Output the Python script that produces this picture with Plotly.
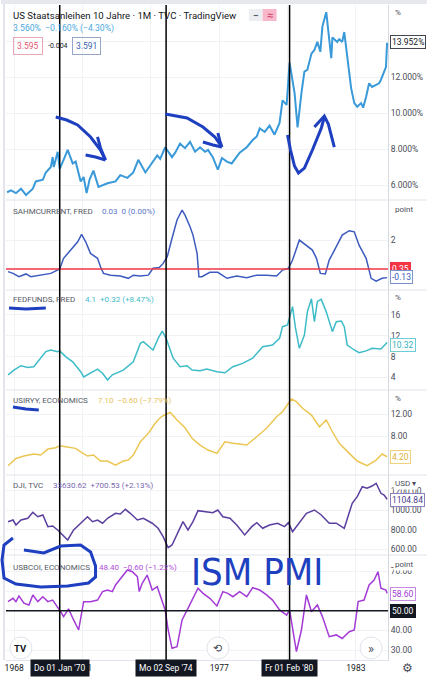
import plotly.graph_objects as go
from plotly.subplots import make_subplots

# --- data (decimal years) ---
ust10_x = [1967.69, 1967.86, 1968.08, 1968.30, 1968.52, 1968.82, 1968.95, 1969.26, 1969.39, 1969.61,
           1969.69, 1969.74, 1969.91, 1970.00, 1970.17, 1970.35, 1970.57, 1970.70, 1970.92, 1971.05,
           1971.18, 1971.31, 1971.48, 1971.70, 1972.10, 1972.45, 1972.66, 1972.97, 1973.23, 1973.45,
           1973.76, 1973.97, 1974.28, 1974.41, 1974.63, 1974.93, 1975.07, 1975.28, 1975.50, 1975.72,
           1975.94, 1976.16, 1976.38, 1976.51, 1976.72, 1976.94, 1977.12, 1977.34, 1977.55, 1977.90,
           1978.21, 1978.47, 1978.65, 1978.78, 1979.00, 1979.21, 1979.43, 1979.65, 1979.78, 1979.96,
           1980.09, 1980.31, 1980.44, 1980.61, 1980.74, 1980.87, 1981.05, 1981.18, 1981.31, 1981.44,
           1981.53, 1981.70, 1981.83, 1981.92, 1981.97, 1982.18, 1982.27, 1982.40, 1982.49, 1982.62,
           1982.79, 1982.93, 1983.06, 1983.23, 1983.32, 1983.45, 1983.58, 1983.71, 1984.02, 1984.10,
           1984.32, 1984.37]
ust10_v = [5.6, 5.7, 5.55, 5.8, 5.45, 5.8, 6.2, 6.3, 6.7, 7.0,
           7.55, 7.0, 7.85, 6.9, 7.4, 7.95, 7.2, 7.3, 6.2, 6.45,
           5.55, 6.3, 6.8, 5.9, 6.1, 6.2, 6.55, 6.4, 6.7, 7.4,
           6.7, 7.1, 7.65, 7.45, 8.1, 7.55, 7.8, 8.3, 8.05, 8.4,
           7.85, 8.1, 7.85, 7.95, 7.55, 6.85, 7.5, 7.3, 7.2, 7.8,
           8.1, 8.5, 8.7, 9.15, 8.95, 9.3, 8.8, 9.45, 10.7, 10.45,
           12.8, 11.1, 9.2, 11.1, 12.3, 12.4, 13.3, 13.5, 13.95, 13.4,
           14.8, 15.6, 14.2, 13.05, 14.2, 13.95, 14.1, 13.95, 14.5, 13.05,
           11.4, 10.55, 10.35, 10.55, 10.3, 10.9, 11.65, 11.45, 11.65, 11.85,
           12.55, 13.9]

sahm_x = [1967.73, 1967.95, 1968.21, 1968.52, 1968.73, 1969.17, 1969.61, 1969.83, 1970.00, 1970.17,
          1970.57, 1970.79, 1970.96, 1971.14, 1971.35, 1971.66, 1971.79, 1971.92, 1972.23, 1972.66,
          1973.01, 1973.23, 1973.54, 1973.89, 1974.10, 1974.37, 1974.54, 1974.72, 1974.93, 1975.15,
          1975.37, 1975.50, 1975.72, 1975.85, 1976.03, 1976.11, 1976.24, 1976.59, 1976.94, 1977.34,
          1977.77, 1978.21, 1978.65, 1979.08, 1979.52, 1979.78, 1980.04, 1980.22, 1980.52, 1980.83,
          1981.09, 1981.27, 1981.44, 1981.66, 1981.83, 1982.14, 1982.40, 1982.71, 1982.93, 1983.14,
          1983.45, 1983.67, 1983.89, 1984.15, 1984.37]
sahm_v = [0.2, 0.1, -0.09, 0.07, -0.09, 0.0, 0.1, 0.24, 0.35, 0.96,
          1.53, 1.9, 2.32, 1.9, 1.24, 0.96, 0.48, 0.1, 0.0, -0.05,
          -0.18, 0.0, -0.05, 0.0, 0.39, 0.43, 0.67, 1.05, 2.1, 3.14,
          3.7, 3.42, 2.76, 2.28, 1.24, -0.09, -0.09, 0.16, 0.16, -0.18,
          -0.05, -0.14, 0.0, 0.0, -0.05, 0.29, 0.39, 0.86, 2.0, 1.71,
          1.43, 0.96, 0.1, 0.07, 0.86, 1.62, 2.28, 2.53, 2.47, 1.71,
          0.96, -0.18, -0.34, -0.18, -0.14]

fed_x = [1967.73, 1967.99, 1968.30, 1968.60, 1968.86, 1969.17, 1969.39, 1969.61, 1969.91, 1970.00,
         1970.26, 1970.57, 1970.92, 1971.05, 1971.35, 1971.66, 1971.88, 1972.10, 1972.31, 1972.79,
         1973.23, 1973.54, 1973.67, 1973.89, 1974.10, 1974.32, 1974.50, 1974.67, 1974.98, 1975.28,
         1975.59, 1975.81, 1976.16, 1976.46, 1976.90, 1977.25, 1977.60, 1978.03, 1978.47, 1978.91,
         1979.34, 1979.65, 1979.78, 1980.00, 1980.17, 1980.22, 1980.35, 1980.52, 1980.74, 1980.87,
         1981.05, 1981.18, 1981.31, 1981.48, 1981.70, 1981.83, 1981.97, 1982.14, 1982.36, 1982.49,
         1982.62, 1982.93, 1983.14, 1983.45, 1983.71, 1984.10, 1984.37]
fed_v = [4.5, 5.4, 6.25, 5.9, 6.05, 7.7, 8.95, 9.27, 8.95, 9.1,
         8.0, 7.0, 5.1, 4.1, 4.9, 5.6, 4.8, 3.5, 4.5, 5.4,
         7.0, 10.55, 10.87, 10.1, 9.27, 11.5, 12.9, 11.5, 7.7, 6.05,
         6.25, 5.4, 5.3, 5.6, 5.1, 4.9, 6.05, 6.7, 7.7, 9.9,
         10.23, 11.5, 13.75, 14.1, 17.0, 17.6, 13.45, 9.6, 12.15, 16.6,
         19.1, 14.7, 18.6, 19.0, 16.6, 14.7, 12.8, 14.7, 14.85, 13.75,
         10.23, 9.27, 8.75, 9.1, 9.6, 9.45, 10.7]

cpi_x = [1967.73, 1968.08, 1968.43, 1968.86, 1969.17, 1969.48, 1969.83, 1970.00, 1970.26, 1970.70,
         1970.92, 1971.22, 1971.48, 1971.79, 1972.10, 1972.45, 1972.79, 1973.01, 1973.23, 1973.54,
         1973.89, 1974.19, 1974.41, 1974.54, 1974.85, 1975.15, 1975.50, 1975.81, 1976.16, 1976.51,
         1976.90, 1977.25, 1977.60, 1978.21, 1978.65, 1979.08, 1979.52, 1979.78, 1980.17, 1980.39,
         1980.66, 1981.05, 1981.40, 1981.70, 1981.97, 1982.27, 1982.71, 1983.06, 1983.49, 1983.89,
         1984.15, 1984.37]
cpi_v = [2.68, 4.0, 4.44, 4.8, 4.62, 5.7, 5.94, 6.3, 6.12, 5.83,
         5.2, 4.44, 4.62, 3.53, 3.53, 2.8, 3.53, 3.7, 4.62, 7.03,
         8.55, 10.37, 11.38, 11.75, 12.35, 10.97, 9.57, 7.65, 6.43, 5.52,
         4.92, 7.03, 6.74, 6.43, 7.94, 9.46, 11.56, 12.47, 14.78, 14.29,
         13.09, 11.87, 9.75, 10.97, 8.84, 6.74, 4.92, 3.53, 2.68, 3.7,
         4.8, 4.31]

dji_x = [1967.73, 1967.95, 1968.08, 1968.30, 1968.60, 1968.82, 1969.04, 1969.26, 1969.48, 1969.69,
         1969.91, 1970.04, 1970.35, 1970.61, 1970.92, 1971.22, 1971.44, 1971.66, 1971.88, 1972.10,
         1972.45, 1972.66, 1972.88, 1973.10, 1973.41, 1973.67, 1974.06, 1974.32, 1974.54, 1974.76,
         1974.93, 1975.15, 1975.41, 1975.63, 1975.85, 1976.07, 1976.46, 1976.72, 1976.94, 1977.16,
         1977.47, 1977.77, 1978.12, 1978.43, 1978.65, 1978.91, 1979.21, 1979.56, 1979.87, 1980.04,
         1980.22, 1980.52, 1980.83, 1981.18, 1981.48, 1981.83, 1982.14, 1982.49, 1982.62, 1982.84,
         1983.06, 1983.28, 1983.49, 1983.71, 1983.89, 1984.10, 1984.24, 1984.37]
dji_v = [883, 900, 849, 900, 918, 979, 934, 952, 832, 839,
         798, 770, 695, 798, 867, 934, 883, 900, 867, 918,
         969, 962, 1010, 969, 900, 918, 867, 815, 729, 616,
         644, 747, 883, 798, 883, 996, 986, 975, 1003, 934,
         918, 849, 747, 832, 873, 815, 849, 867, 832, 873,
         780, 867, 969, 1003, 952, 867, 867, 815, 918, 1072,
         1140, 1242, 1226, 1249, 1277, 1174, 1157, 1113]

pmi_x = [1967.73, 1967.95, 1968.08, 1968.21, 1968.43, 1968.65, 1968.82, 1969.04, 1969.26, 1969.48,
         1969.69, 1969.91, 1970.04, 1970.17, 1970.39, 1970.61, 1970.83, 1971.05, 1971.35, 1971.66,
         1971.88, 1972.10, 1972.31, 1972.45, 1972.66, 1972.97, 1973.19, 1973.41, 1973.49, 1973.62,
         1973.84, 1974.06, 1974.28, 1974.50, 1974.63, 1974.76, 1974.93, 1975.15, 1975.37, 1975.63,
         1975.81, 1976.07, 1976.29, 1976.59, 1976.90, 1977.16, 1977.38, 1977.60, 1977.90, 1978.21,
         1978.47, 1978.78, 1979.08, 1979.34, 1979.65, 1979.96, 1980.09, 1980.39, 1980.61, 1980.83,
         1981.05, 1981.31, 1981.53, 1981.83, 1982.14, 1982.40, 1982.71, 1982.93, 1983.10, 1983.36,
         1983.58, 1983.80, 1983.97, 1984.10, 1984.32, 1984.37]
pmi_v = [54.6, 56.3, 54.6, 57.5, 53.8, 52.9, 58.0, 54.6, 57.1, 54.6,
         55.4, 52.0, 49.5, 47.0, 50.9, 45.3, 40.2, 54.6, 54.6, 55.4,
         59.7, 60.5, 59.7, 63.1, 66.4, 70.7, 69.8, 67.3, 59.7, 63.9,
         68.1, 60.5, 62.2, 54.6, 50.4, 40.2, 30.9, 31.7, 45.3, 51.2,
         55.4, 61.4, 58.8, 56.3, 52.4, 59.7, 58.8, 57.1, 59.7, 57.1,
         61.7, 60.5, 58.0, 55.4, 50.4, 47.8, 50.4, 29.2, 40.2, 58.0,
         49.5, 52.9, 47.0, 36.8, 37.7, 35.9, 39.3, 40.2, 54.6, 55.4,
         63.1, 65.6, 69.8, 61.4, 60.5, 58.8]

marker_dates = [1970.0, 1974.67, 1980.09]
marker_labels = ["Do 01 Jan '70", "Mo 02 Sep '74", "Fr 01 Feb '80"]
year_ticks = [1968, 1971, 1974, 1977, 1980, 1983]
year_text = ["1968", "1971", "", "1977", "", "1983"]  # 1974 / 1980 sit under the date boxes

W, H = 428, 680
ML, MR, MT, MB = 5, 39, 5, 20


# pixel -> paper helpers for the overlay texts / scribbles
def px(x):
    return (x - ML) / (W - ML - MR)


def py(y):
    return (H - MB - y) / (H - MT - MB)


fig = make_subplots(rows=6, cols=1, shared_xaxes=True, vertical_spacing=0,
                    row_heights=[195, 90, 100, 85, 80, 105])

series = [
    (ust10_x, ust10_v, "#3a9ad9", 2),
    (sahm_x, sahm_v, "#3d5bbf", 1.5),
    (fed_x, fed_v, "#3dbcc8", 1.5),
    (cpi_x, cpi_v, "#ecc652", 1.5),
    (dji_x, dji_v, "#5b3f9f", 1.5),
    (pmi_x, pmi_v, "#a43bd6", 1.5),
]
for i, (xs, ys, col, w) in enumerate(series):
    fig.add_trace(go.Scatter(x=xs, y=ys, mode="lines", line=dict(color=col, width=w),
                             hoverinfo="skip", showlegend=False), row=i + 1, col=1)

grid = "#f0f2f6"
tickfont = dict(family="Roboto", size=8.5, color="#4a4d57")
fig.update_xaxes(range=[1967.642, 1984.41], showgrid=True, gridcolor=grid, zeroline=False,
                 tickvals=year_ticks, ticktext=year_text,
                 tickfont=dict(family="Roboto", size=8.5, color="#131722"), ticks="")
fig.update_xaxes(showline=True, linecolor="#e0e3eb", row=6, col=1)
fig.update_yaxes(side="right", showgrid=True, gridcolor=grid, zeroline=False, ticks="",
                 showline=True, linecolor="#d6d9e0", tickfont=tickfont)

fig.update_yaxes(range=[5.17, 16.0], tickvals=[6, 8, 10, 12, 14],
                 ticktext=["6.000%", "8.000%", "10.000%", "12.000%", ""], row=1, col=1)
fig.update_yaxes(range=[-0.845, 4.28], tickvals=[2], ticktext=["2"], row=2, col=1)
fig.update_yaxes(range=[1.58, 20.8], tickvals=[4, 8, 12, 16], ticktext=["4", "8", "12", "16"], row=3, col=1)
fig.update_yaxes(range=[1.0, 16.41], tickvals=[8, 12], ticktext=["8.00", "12.00"], row=4, col=1)
fig.update_yaxes(range=[541, 1362], tickvals=[600, 800, 1000, 1200],
                 ticktext=["600.00", "800.00", "1000.00", "1200.00"], row=5, col=1)
fig.update_yaxes(range=[24.95, 78.3], tickvals=[30, 40, 50, 60, 70],
                 ticktext=["30.00", "40.00", "", "", "70.00"], row=6, col=1)

shapes = []
# top stripe and pane separators
shapes.append(dict(type="rect", xref="paper", yref="paper", x0=px(0), x1=px(W), y0=py(4), y1=py(0),
                   fillcolor="#e6e8ed", line=dict(width=0), layer="below"))
shapes.append(dict(type="line", xref="paper", yref="paper", x0=px(3), x1=px(3), y0=py(660), y1=py(4),
                   line=dict(color="#e3e5ea", width=2)))
for yy in [200, 290, 390, 475, 555]:
    shapes.append(dict(type="line", xref="paper", yref="paper", x0=0, x1=px(W), y0=py(yy), y1=py(yy),
                       line=dict(color="#e0e3eb", width=1)))
# reference lines
shapes.append(dict(type="line", xref="paper", yref="y2", x0=0, x1=1, y0=0.35, y1=0.35,
                   line=dict(color="#f23645", width=1.5)))
shapes.append(dict(type="line", xref="paper", yref="y6", x0=0, x1=1, y0=50, y1=50,
                   line=dict(color="#131722", width=1.5)))
for d in marker_dates:
    shapes.append(dict(type="line", xref="x", yref="paper", x0=d, x1=d, y0=0, y1=1,
                       line=dict(color="#000000", width=1.5)))

# pill buttons next to the title
shapes.append(dict(type="rect", xref="paper", yref="paper", x0=px(249), x1=px(263), y0=py(21), y1=py(9),
                   fillcolor="#eceef2", line=dict(width=0)))
shapes.append(dict(type="rect", xref="paper", yref="paper", x0=px(263), x1=px(277), y0=py(21), y1=py(9),
                   fillcolor="#f8b7cb", line=dict(width=0)))

# hand drawn marks
ink = "#1d3fc0"
scribbles = [
    [(55, 117), (66, 120), (77, 125), (90, 137), (100, 150), (105, 160)],
    [(97, 137), (100, 148), (105, 160)],
    [(85, 155), (95, 157), (105, 160)],
    [(165, 114), (187, 118), (203, 127), (215, 137), (222, 147)],
    [(218, 133), (220, 141), (222, 147)],
    [(203, 142), (213, 145), (222, 147)],
    [(288, 135), (291, 150), (295, 166), (299, 173), (305, 168), (313, 150), (322, 128), (325, 117)],
    [(315, 127), (325, 116), (329, 124), (335, 147)],
    [(8, 308), (25, 309), (45, 308)],
    [(12, 407), (25, 409), (38, 410)],
    [(23, 550), (43, 553), (60, 546), (80, 545), (90, 552), (95, 566), (95, 577), (88, 583),
     (67, 586), (40, 587), (15, 584), (3, 578), (1, 560), (3, 545), (12, 538)],
]
for pts in scribbles:
    path = "M " + " L ".join(f"{px(a):.4f},{py(b):.4f}" for a, b in pts)
    shapes.append(dict(type="path", xref="paper", yref="paper", path=path,
                       line=dict(color=ink, width=3)))

# floating buttons
for cx in [20, 218, 372]:
    shapes.append(dict(type="circle", xref="paper", yref="paper", xsizemode="pixel", ysizemode="pixel",
                       xanchor=px(cx), yanchor=py(648), x0=-11, x1=11, y0=-11, y1=11,
                       fillcolor="white", line=dict(color="#e0e3eb", width=1)))

ann = []


def txt(x, y, s, size=8.5, color="#131722", anchor="left", **kw):
    ann.append(dict(xref="paper", yref="paper", x=px(x), y=py(y), text=s, showarrow=False,
                    xanchor=anchor, yanchor="middle",
                    font=dict(family="Roboto", size=size, color=color), **kw))


def box(yref, yv, s, border, color="#131722", bg="white"):
    ann.append(dict(xref="paper", yref=yref, x=1, y=yv, xshift=2, text=s, showarrow=False,
                    xanchor="left", yanchor="middle", bgcolor=bg, bordercolor=border,
                    borderwidth=1, borderpad=1,
                    font=dict(family="Roboto", size=8.5, color=color)))


sp = "\u00a0\u00a0"
txt(10, 15, "US Staatsanleihen 10 Jahre · 1M · TVC · TradingView", size=9.6)
txt(10, 28, "3.560%" + sp + "−0.160% (−4.30%)", size=8.6, color="#4aa8de")
txt(12, 46, "3.595", color="#e0576f", bordercolor="#e9a8b3", borderwidth=1, borderpad=3)
txt(45, 46, "-0.004", size=7)
txt(71, 46, "3.591", color="#3b5fae", bordercolor="#97a5c9", borderwidth=1, borderpad=3)
txt(256, 15, "<b>−</b>", size=10, color="#555a66", anchor="center")
txt(270, 15, "≈", size=11, color="#d03a5e", anchor="center")

grey = "#555a66"
txt(10, 211, "SAHMCURRENT, FRED", size=8, color=grey)
txt(99, 211, "0.03" + sp + "0 (0.00%)", size=8, color="#5a76c6")
txt(10, 299, "FEDFUNDS, FRED", size=8, color=grey)
txt(82, 299, "4.1" + sp + "+0.32 (+8.47%)", size=8, color="#3fbcc9")
txt(10, 400, "USIRYY, ECONOMICS", size=8, color=grey)
txt(95, 400, "7.10" + sp + "−0.60 (−7.79%)", size=8, color="#e6c25a")
txt(10, 485, "DJI, TVC", size=8, color=grey)
txt(50, 485, "33630.62" + sp + "+700.53 (+2.13%)", size=8, color="#7a68b0")
txt(10, 567, "USBCOI, ECONOMICS", size=8, color=grey)
txt(96, 567, "48.40" + sp + "−0.60 (−1.22%)", size=8, color="#b04cd6")

# right axis units
for yy, s in [(12, "%"), (209, "point"), (297, "%"), (398, "%"), (483, "USD ▾"), (564, "point")]:
    txt(394, yy, s, size=8, color="#4a4d57", bgcolor="white")

box("y", 13.952, "13.952%", "#434651")
box("y2", 0.35, "0.35", "#f23645", color="white", bg="#f23645")
box("y2", -0.13, "-0.13", "#7d93cf", color="#3d5bbf")
box("y3", 10.32, "10.32", "#6fcdd5", color="#2fb1bd")
box("y4", 4.20, "4.20", "#efd27e", color="#d9b13c")
box("y5", 1104.84, "1104.84", "#8e80bd", color="#4a3d8c")
box("y6", 58.60, "58.60", "#c68be0", color="#a43bd6")
box("y6", 50.00, "50.00", "#131722", color="white", bg="#131722")

# crosshair date labels on the time axis
for d, s in zip(marker_dates, marker_labels):
    ann.append(dict(xref="x", yref="paper", x=d, y=py(668), text=s, showarrow=False,
                    xanchor="center", yanchor="middle", bgcolor="#131722", borderpad=3,
                    font=dict(family="Roboto", size=8.5, color="white")))

txt(409, 668, "⚙", size=12, color="#4a4d57", anchor="center")
txt(20, 648, "<b>TV</b>", size=9.5, color="#131722", anchor="center")
txt(218, 648, "⟲", size=11, color="#4a4d57", anchor="center")
txt(372, 648, "»", size=13, color="#4a4d57", anchor="center")

# handwritten note
ann.append(dict(xref="paper", yref="paper", x=px(257), y=py(572), text="ISM PMI", showarrow=False,
                xanchor="center", yanchor="middle",
                font=dict(family="DejaVu Sans Condensed, Liberation Sans Narrow, Liberation Sans",
                          size=38, color=ink)))

fig.update_layout(width=W, height=H, margin=dict(l=ML, r=MR, t=MT, b=MB),
                  paper_bgcolor="white", plot_bgcolor="white", hovermode=False,
                  shapes=shapes, annotations=ann, showlegend=False,
                  font=dict(family="Roboto"))

fig.write_html("out.html", config={"displayModeBar": False},
               post_script="document.body.style.margin='0';document.body.style.overflow='hidden';")
